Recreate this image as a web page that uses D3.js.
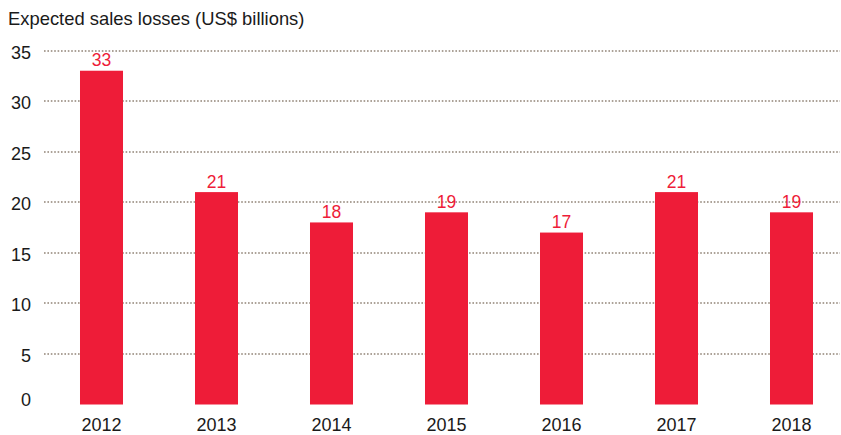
<!DOCTYPE html>
<meta charset="utf-8">
<title>sales losses</title>
<style>
body { margin: 0; background: #fff; }
text { font-family: "Liberation Sans", Arial, Helvetica, sans-serif; }
.grid line { stroke: #aca298; stroke-width: 2; stroke-dasharray: 1.6 1.8; }
</style>
<body>
<div id="chart"></div>
<script src="https://cdn.jsdelivr.net/npm/d3@7"></script>
<script>
var years = ["2012", "2013", "2014", "2015", "2016", "2017", "2018"];
var losses = [33, 21, 18, 19, 17, 21, 19];
var yTicks = [0, 5, 10, 15, 20, 25, 30, 35];

var width = 841, height = 435;
var svg = d3.select("#chart").append("svg")
    .attr("width", width)
    .attr("height", height);

var x = d3.scaleBand()
    .domain(years)
    .range([44, 849])
    .paddingInner(0.626)
    .paddingOuter(0.313);

var y = d3.scaleLinear()
    .domain([0, 35])
    .range([404.5, 50.5]);

svg.append("text")
    .attr("x", 8)
    .attr("y", 25)
    .style("font-size", "18.4px")
    .style("fill", "#1a1a1a")
    .text("Expected sales losses (US$ billions)");

// dotted gridlines, none at zero
svg.append("g").attr("class", "grid")
  .selectAll("line")
    .data(yTicks.filter(function(d) { return d > 0; }))
  .enter().append("line")
    .attr("x1", 44)
    .attr("x2", 840)
    .attr("y1", function(d) { return Math.round(y(d)); })
    .attr("y2", function(d) { return Math.round(y(d)); });

svg.append("g").selectAll("text")
    .data(yTicks)
  .enter().append("text")
    .attr("x", 31)
    .attr("y", function(d) { return Math.min(y(d) + 8, 406); })
    .attr("text-anchor", "end")
    .style("font-size", "18px")
    .style("fill", "#1a1a1a")
    .text(function(d) { return d; });

var data = years.map(function(d, i) { return {year: d, value: losses[i]}; });

svg.append("g").selectAll("rect")
    .data(data)
  .enter().append("rect")
    .attr("x", function(d) { return x(d.year); })
    .attr("width", x.bandwidth())
    .attr("y", function(d) { return y(d.value); })
    .attr("height", function(d) { return y(0) - y(d.value); })
    .style("fill", "#ee1c38");

svg.append("g").selectAll("text")
    .data(data)
  .enter().append("text")
    .attr("x", function(d) { return x(d.year) + x.bandwidth() / 2; })
    .attr("y", function(d) { return y(d.value) - 4.5; })
    .attr("text-anchor", "middle")
    .style("font-size", "17.5px")
    .style("fill", "#ee1c38")
    .text(function(d) { return d.value; });

svg.append("g").selectAll("text")
    .data(years)
  .enter().append("text")
    .attr("x", function(d) { return x(d) + x.bandwidth() / 2; })
    .attr("y", 431)
    .attr("text-anchor", "middle")
    .style("font-size", "18px")
    .style("fill", "#1a1a1a")
    .text(function(d) { return d; });
</script>
</body>
